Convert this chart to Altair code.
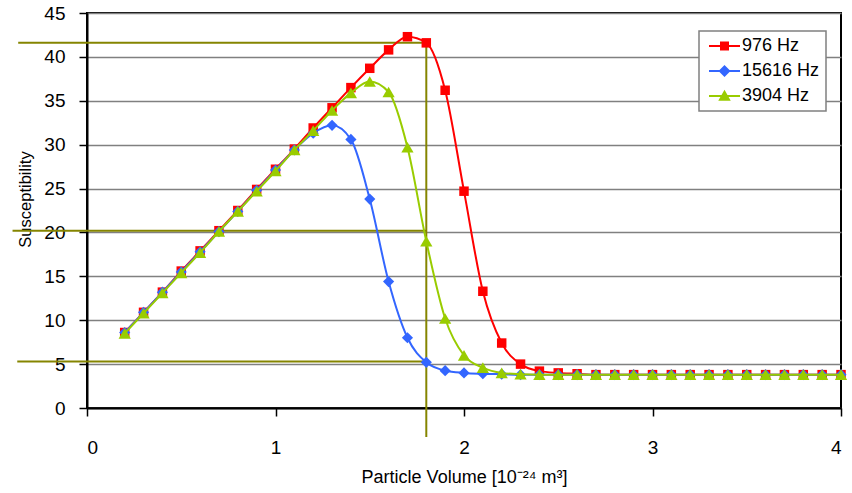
import altair as alt
import pandas as pd

# Particle volume grid (10^-24 m^3)
volume = [0.2, 0.3, 0.4, 0.5, 0.6, 0.7, 0.8, 0.9, 1.0, 1.1, 1.2, 1.3, 1.4,
          1.5, 1.6, 1.7, 1.8, 1.9, 2.0, 2.1, 2.2, 2.3, 2.4, 2.5, 2.6, 2.7,
          2.8, 2.9, 3.0, 3.1, 3.2, 3.3, 3.4, 3.5, 3.6, 3.7, 3.8, 3.9, 4.0]

# Susceptibility per excitation frequency
chi_976 = [8.6, 10.9, 13.2, 15.6, 17.9, 20.2, 22.5, 24.9, 27.2, 29.5, 31.9,
           34.2, 36.5, 38.7, 40.8, 42.3, 41.6, 36.2, 24.7, 13.3, 7.4, 5.0,
           4.2, 4.0, 3.9, 3.8, 3.8, 3.8, 3.8, 3.8, 3.8, 3.8, 3.8, 3.8, 3.8,
           3.8, 3.8, 3.8, 3.8]
chi_15616 = [8.6, 10.9, 13.2, 15.5, 17.8, 20.1, 22.4, 24.8, 27.1, 29.4, 31.3,
             32.2, 30.6, 23.8, 14.4, 8.0, 5.2, 4.25, 4.0, 3.9, 3.85, 3.8,
             3.8, 3.8, 3.8, 3.8, 3.8, 3.8, 3.8, 3.8, 3.8, 3.8, 3.8, 3.8, 3.8,
             3.8, 3.8, 3.8, 3.8]
chi_3904 = [8.5, 10.8, 13.1, 15.4, 17.7, 20.1, 22.4, 24.7, 27.0, 29.4, 31.6,
            33.9, 35.9, 37.2, 36.0, 29.7, 19.0, 10.2, 6.0, 4.6, 4.0, 3.85,
            3.8, 3.8, 3.8, 3.8, 3.8, 3.8, 3.8, 3.8, 3.8, 3.8, 3.8, 3.8, 3.8,
            3.8, 3.8, 3.8, 3.8]

series_names = ["976 Hz", "15616 Hz", "3904 Hz"]
series_values = [chi_976, chi_15616, chi_3904]
series_colors = ["#FF0000", "#3366FF", "#99CC00"]
marker_shapes = ["square", "diamond", "triangle-up"]
marker_sizes = [90, 125, 150]

# Legend glyphs (unit = 5 px): a line segment with the series marker on it,
# drawn to the right of the nominal symbol box
legend_paths = [
    "M-1,-0.2H5.2V0.2H-1Z M1.2,-0.9H3V0.9H1.2Z",
    "M-1,-0.2H5.2V0.2H-1Z M2.1,-1.2L3.3,0L2.1,1.2L0.9,0Z",
    "M-1,-0.2H5.2V0.2H-1Z M2.1,-1.25L3.35,0.95H0.85Z",
]

# Read-off guides at V = 1.8
guide_volume = 1.8
guide_levels = [41.6, 20.2, 5.3]
guide_starts = [-0.365, -0.395, -0.37]
guide_bottom = -3.3
guide_color = "#858500"

FONT = "Liberation Sans"

rows = []
for name, vals in zip(series_names, series_values):
    for v, c in zip(volume, vals):
        rows.append({"volume": v, "chi": c, "series": name})
df = pd.DataFrame(rows)

x_axis = alt.Axis(values=[0, 1, 2, 3, 4], format="d", grid=False,
                  title="Particle Volume [10⁻²⁴ m³]", labelPadding=22,
                  titlePadding=11)
y_axis = alt.Axis(values=list(range(0, 50, 5)), grid=True,
                  title="Susceptibility", labelPadding=14, titlePadding=10,
                  titleY=186)
x_scale = alt.Scale(domain=[0, 4], nice=False)
y_scale = alt.Scale(domain=[0, 45], nice=False)
color_scale = alt.Scale(domain=series_names, range=series_colors)


def xenc(field="volume"):
    return alt.X(f"{field}:Q", scale=x_scale, axis=x_axis)


def yenc(field="chi"):
    return alt.Y(f"{field}:Q", scale=y_scale, axis=y_axis)


layers = []

# Guide rules (drawn beneath the data)
h_guides = pd.DataFrame({"volume": guide_starts,
                         "volume2": [guide_volume] * len(guide_levels),
                         "chi": guide_levels})
v_guide = pd.DataFrame({"volume": [guide_volume], "chi": [guide_levels[0]],
                        "chi2": [guide_bottom]})
layers.append(
    alt.Chart(h_guides).mark_rule(color=guide_color, strokeWidth=2, clip=False)
    .encode(x=xenc(), x2="volume2:Q", y=yenc())
)
layers.append(
    alt.Chart(v_guide).mark_rule(color=guide_color, strokeWidth=2, clip=False)
    .encode(x=xenc(), y=yenc(), y2="chi2:Q")
)

# One smoothed line plus its markers per series, in legend order
for name, colour, shape, size in zip(series_names, series_colors,
                                     marker_shapes, marker_sizes):
    base = alt.Chart(df).transform_filter(alt.datum.series == name)
    layers.append(
        base.mark_line(strokeWidth=2, interpolate="monotone", color=colour)
        .encode(x=xenc(), y=yenc())
    )
    layers.append(
        base.mark_point(shape=shape, size=size, filled=True, opacity=1,
                        strokeWidth=0, color=colour)
        .encode(x=xenc(), y=yenc())
    )

# Legend carrier: points moved off the clipped plot area, domains fixed
legend_def = alt.Legend(title=None, orient="none", legendX=612, legendY=18)
layers.append(
    alt.Chart(df)
    .transform_calculate(off="-10")
    .mark_point(filled=True, opacity=1, clip=True)
    .encode(
        x=alt.X("off:Q", scale=x_scale, axis=x_axis),
        y=yenc(),
        color=alt.Color("series:N", scale=color_scale, legend=legend_def),
        shape=alt.Shape("series:N",
                        scale=alt.Scale(domain=series_names, range=legend_paths),
                        legend=legend_def),
    )
)

chart = alt.layer(*layers).properties(
    width=754,
    height=395,
    padding={"left": 87, "top": 13, "right": 11, "bottom": 85},
    autosize=alt.AutoSizeParams(type="none"),
    background="white",
).configure_view(
    stroke="black", strokeWidth=2
).configure_axis(
    labelFont=FONT, titleFont=FONT, labelFontSize=19, titleFontSize=18,
    titleFontWeight="normal", labelColor="black", titleColor="black",
    domainColor="black", domainWidth=2, tickColor="black", tickWidth=1.5,
    tickSize=8, gridColor="#808080", gridWidth=1.5,
).configure_axisY(
    titleFontSize=16.5,
).configure_legend(
    labelFont=FONT, labelFontSize=18, labelColor="black",
    symbolSize=100, symbolStrokeWidth=0, padding=6, rowPadding=7,
    labelOffset=19, strokeColor="#808080", strokeWidth=1.5,
    fillColor="white",
)

chart.save("out.html", embed_options={"renderer": "svg", "actions": False})
